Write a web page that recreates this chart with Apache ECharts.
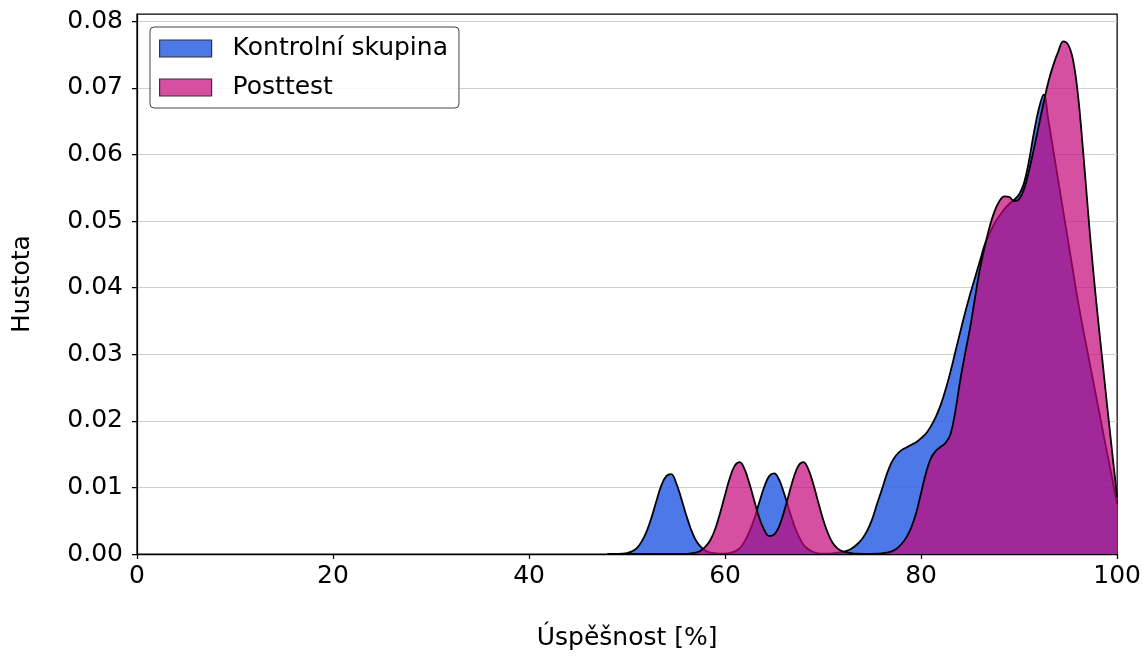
<!DOCTYPE html>
<html>
<head>
<meta charset="utf-8">
<script src="https://cdn.jsdelivr.net/npm/echarts@6/dist/echarts.min.js"></script>
<style>
html,body{margin:0;padding:0;background:#fff;}
#chart{width:1144px;height:657px;}
</style>
</head>
<body>
<div id="chart"></div>
<script>
// x grid (Úspěšnost [%])
const xs = [
  48,48.5,49,49.5,50,50.5,51,51.5,52,52.5,
  53,53.5,54,54.5,55,55.5,56,56.5,57,57.5,
  58,58.5,59,59.5,60,60.5,61,61.5,62,62.5,
  63,63.5,64,64.5,65,65.5,66,66.5,67,67.5,
  68,68.5,69,69.5,70,70.5,71,71.5,72,72.5,
  73,73.5,74,74.5,75,75.5,76,76.5,77,77.5,
  78,78.5,79,79.5,80,80.5,81,81.5,82,82.5,
  83,83.5,84,84.5,85,85.5,86,86.5,87,87.5,
  88,88.5,89,89.5,90,90.5,91,91.5,92,92.5,
  93,93.5,94,94.5,95,95.5,96,96.5,97,97.5,
  98,98.5,99,99.5,100
];
// density – Kontrolní skupina
const kontrolni = [
  0,0,0.00002,0.00005,0.00015,0.0004,0.0009,0.0019,0.0034,0.0055,
  0.0080,0.0103,0.0117,0.0120,0.0107,0.0085,0.0060,0.0038,0.0021,0.0011,
  0.0005,0.0002,0.0001,0.00004,0.00006,0.00016,0.0004,0.0009,0.0019,0.0034,
  0.0054,0.0078,0.0101,0.0117,0.0121,0.0112,0.0092,0.0068,0.0045,0.0027,
  0.0014,0.0007,0.0003,0.0001,0.00005,0.00005,0.0001,0.0002,0.0003,0.0005,
  0.0009,0.0015,0.0023,0.0035,0.0052,0.0075,0.0097,0.0120,0.0138,0.0149,
  0.0156,0.0160,0.0164,0.0168,0.0174,0.0181,0.0192,0.0206,0.0224,0.0247,
  0.0274,0.0304,0.0334,0.0363,0.0390,0.0415,0.0440,0.0465,0.0482,0.0497,
  0.0508,0.0518,0.0526,0.0532,0.0540,0.0557,0.0590,0.0632,0.0668,0.0690,
  0.0650,0.0605,0.0560,0.0515,0.0470,0.0425,0.0380,0.0340,0.0302,0.0264,
  0.0226,0.0188,0.0150,0.0113,0.0075
];
// density – Posttest
const posttest = [
  0,0,0,0,0,0,0,0,0,0,
  0,0,0,0,0,0,0,0.0001,0.0002,0.0005,
  0.0011,0.0021,0.0038,0.0062,0.0089,0.0115,0.0133,0.0138,0.0127,0.0105,
  0.0079,0.0054,0.0036,0.0027,0.0029,0.0041,0.0063,0.0089,0.0115,0.0133,
  0.0138,0.0127,0.0105,0.0078,0.0052,0.0031,0.0016,0.0008,0.0004,0.0002,
  0.0001,0.00005,0.00003,0.00003,0.00003,0.00005,0.0001,0.0002,0.0004,0.0008,
  0.0015,0.0025,0.0040,0.0062,0.0092,0.0122,0.0144,0.0155,0.0161,0.0167,
  0.0180,0.0215,0.0262,0.0302,0.0340,0.0385,0.0428,0.0462,0.0492,0.0515,
  0.0530,0.0537,0.0536,0.0530,0.0533,0.0548,0.0575,0.0608,0.0643,0.0678,
  0.0710,0.0735,0.0755,0.0770,0.0765,0.0742,0.0690,0.0610,0.0520,0.0435,
  0.0360,0.0290,0.0220,0.0152,0.0085
];
const seriesNames = ['Kontrolní skupina', 'Posttest'];
const yTicks = [0,0.01,0.02,0.03,0.04,0.05,0.06,0.07,0.08];
const xTicks = [0,20,40,60,80,100];

const FONT = 'DejaVu Sans';
const FS = 25;
const blueFill = 'rgba(62,110,230,0.92)';
const pinkFill = 'rgba(195,5,120,0.70)';

const chart = echarts.init(document.getElementById('chart'), null, {renderer:'canvas'});
chart.setOption({
  animation: false,
  backgroundColor: '#fff',
  textStyle: {fontFamily: FONT},
  grid: {left:137, right:26, top:14, bottom:103, show:true, borderColor:'#000', borderWidth:1.25, backgroundColor:'transparent'},
  legend: {
    left:150, top:27, orient:'vertical',
    padding:[9,11,8,9], itemGap:14,
    itemWidth:52, itemHeight:17,
    backgroundColor:'rgba(255,255,255,0.85)',
    borderColor:'#444', borderWidth:1, borderRadius:4,
    textStyle:{fontFamily:FONT, fontSize:FS, color:'#000', padding:[0,0,0,16]},
    data:[
      {name:seriesNames[0], icon:'rect', itemStyle:{color:blueFill, borderColor:'#333', borderWidth:1.2}},
      {name:seriesNames[1], icon:'rect', itemStyle:{color:pinkFill, borderColor:'#333', borderWidth:1.2}}
    ]
  },
  xAxis: {
    type:'value', min:0, max:100, interval:20,
    name:'Úspěšnost [%]', nameLocation:'middle', nameGap:72,
    nameTextStyle:{fontFamily:FONT, fontSize:FS, color:'#000'},
    axisLine:{show:true, lineStyle:{color:'#000', width:1.25}},
    axisTick:{show:true, length:5, lineStyle:{color:'#000', width:1.25}},
    axisLabel:{fontFamily:FONT, fontSize:FS, color:'#000', margin:10,
      customValues:xTicks},
    splitLine:{show:false}
  },
  yAxis: {
    type:'value', min:0, max:0.0811, interval:0.01,
    name:'Hustota', nameLocation:'middle', nameGap:102,
    nameTextStyle:{fontFamily:FONT, fontSize:FS, color:'#000'},
    axisLine:{show:true, lineStyle:{color:'#000', width:1.25}},
    axisTick:{show:true, length:5, lineStyle:{color:'#000', width:1.25}, customValues:yTicks},
    axisLabel:{fontFamily:FONT, fontSize:FS, color:'#000', margin:14,
      customValues:yTicks, formatter:(v)=>v.toFixed(2)},
    splitLine:{show:true, lineStyle:{color:'#cfcfcf', width:1.2}}
  },
  series: [
    {
      name:seriesNames[0], type:'line', smooth:0.4, showSymbol:false, z:2,
      data: xs.map((x,i)=>[x, kontrolni[i]]),
      lineStyle:{color:'#000', width:1.8},
      itemStyle:{color:blueFill},
      areaStyle:{color:blueFill, opacity:1, origin:'start'}
    },
    {
      name:seriesNames[1], type:'line', smooth:0.4, showSymbol:false, z:3,
      data: xs.map((x,i)=>[x, posttest[i]]),
      lineStyle:{color:'#000', width:1.8},
      itemStyle:{color:pinkFill},
      areaStyle:{color:pinkFill, opacity:1, origin:'start'}
    }
  ]
});
</script>
</body>
</html>
